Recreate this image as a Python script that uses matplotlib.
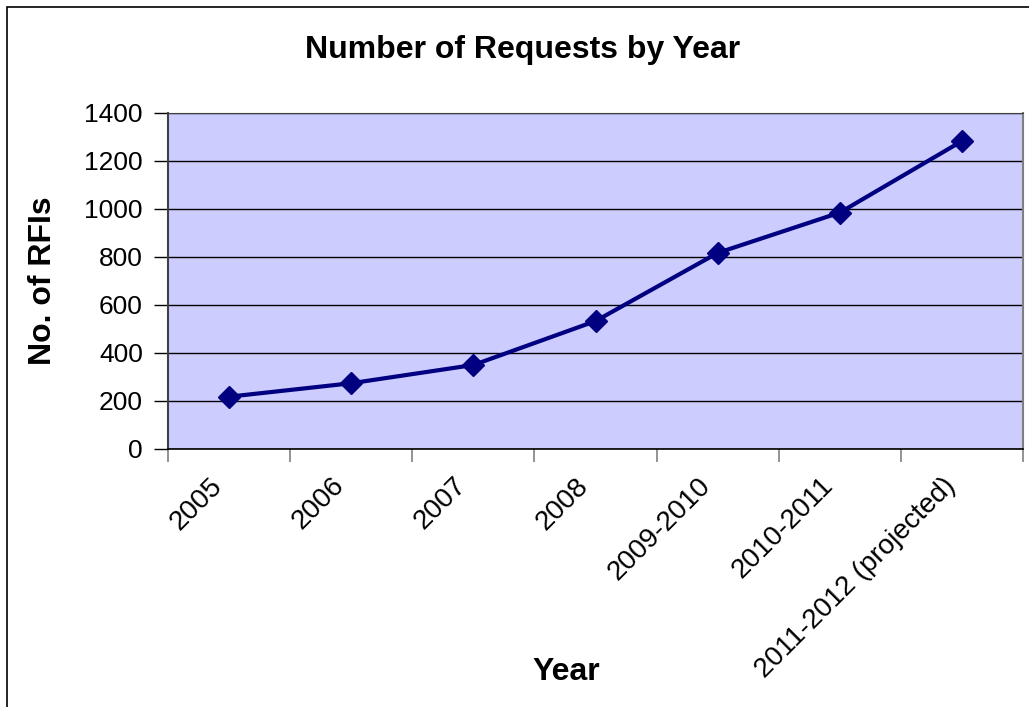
import numpy as np
import matplotlib.pyplot as plt
import matplotlib.transforms as mtransforms
from matplotlib.patches import Rectangle

# data
years = ['2005', '2006', '2007', '2008', '2009-2010', '2010-2011', '2011-2012 (projected)']
requests = [218, 274, 350, 533, 817, 985, 1283]

plt.rcParams['font.family'] = ['Liberation Sans', 'DejaVu Sans']

fig = plt.figure(figsize=(10.29, 7.07), dpi=100)
W, H = 1029, 707
# plot area in pixels: left 168, right 1023, top 113, bottom 449
ax = fig.add_axes([168 / W, 1 - 449 / H, (1023 - 168) / W, (449 - 113) / H])
ax.set_facecolor('#CCCCFF')

x = np.arange(len(years))
ax.plot(x, requests, color='#000080', linewidth=3, marker='D', markersize=11,
        markerfacecolor='#000080', markeredgecolor='#000080', zorder=3, clip_on=False)

ax.set_xlim(-0.5, len(years) - 0.5)
ax.set_ylim(0, 1400)
ax.set_yticks(np.arange(0, 1401, 200))
ax.yaxis.grid(True, color='black', linewidth=1)
ax.set_axisbelow(True)

# category ticks sit between categories, labels at the centres
ax.set_xticks(np.arange(-0.5, len(years)), minor=False)
ax.set_xticklabels([])
ax.set_xticks(x, minor=True)
ax.set_xticklabels(years, minor=True, rotation=45, ha='right', va='top',
                   rotation_mode='anchor', fontsize=20)
ax.tick_params(axis='x', which='minor', length=0, pad=17)
ax.tick_params(axis='x', which='major', length=9, color='#808080', width=1.2, direction='out')
ax.tick_params(axis='y', length=10, width=1, color='black', labelsize=19, pad=8)

shift = mtransforms.ScaledTranslation(-20 / 100, 0, fig.dpi_scale_trans)
for lab in ax.get_xticklabels(minor=True):
    lab.set_transform(lab.get_transform() + shift)

ax.spines['top'].set_color('#404040')
ax.spines['left'].set_color('#404040')
ax.spines['left'].set_linewidth(1.5)
ax.spines['right'].set_color('#808080')
ax.spines['right'].set_linewidth(1.5)
ax.spines['bottom'].set_color('black')
ax.spines['bottom'].set_linewidth(1.2)

fig.text(523 / W, 1 - 50 / H, 'Number of Requests by Year', ha='center', va='center',
         fontsize=23, fontweight='bold')
fig.text(43 / W, 1 - 281 / H, 'No. of RFIs', ha='center', va='center', rotation=90,
         fontsize=23, fontweight='bold')
fig.text(566 / W, 1 - 672 / H, 'Year', ha='center', va='center',
         fontsize=23, fontweight='bold')

# outer chart frame (right and bottom edges fall outside the picture)
fig.patches.append(Rectangle((7 / W, -0.05), 1.1, 1 - 7 / H + 0.05,
                             transform=fig.transFigure, fill=False,
                             edgecolor='black', linewidth=1.2))

fig.savefig('out.png', dpi=100)
